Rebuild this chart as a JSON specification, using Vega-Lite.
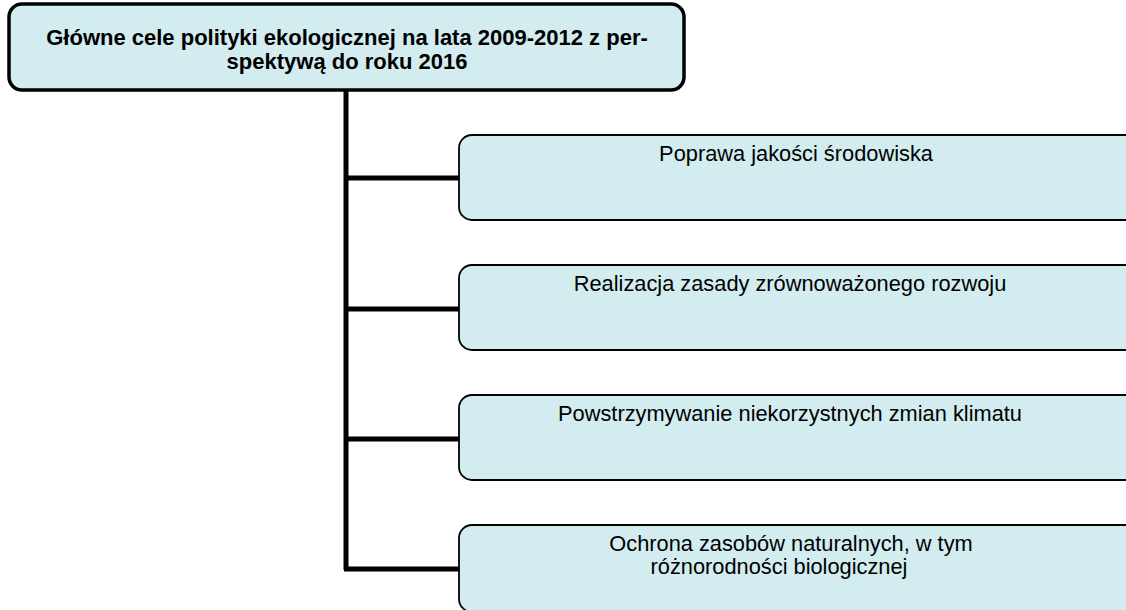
{
  "$schema": "https://vega.github.io/schema/vega-lite/v6.json",
  "width": 1126,
  "height": 610,
  "padding": 0,
  "autosize": {"type": "none"},
  "background": "white",
  "config": {"view": {"stroke": null}},
  "datasets": {
    "lines": [
      {"x": 346, "y": 89, "x2": 346, "y2": 570},
      {"x": 344, "y": 178, "x2": 460, "y2": 178},
      {"x": 344, "y": 309, "x2": 460, "y2": 309},
      {"x": 344, "y": 439, "x2": 460, "y2": 439},
      {"x": 344, "y": 569, "x2": 460, "y2": 569}
    ],
    "top": [
      {"x": 9, "x2": 684, "y": 4, "y2": 90, "tx": 347, "ty": 38, "label": "Główne cele polityki ekologicznej na lata 2009-2012 z per-\nspektywą do roku 2016"}
    ],
    "goals": [
      {"x": 459, "x2": 1140, "y": 135, "y2": 220},
      {"x": 459, "x2": 1140, "y": 265, "y2": 350},
      {"x": 459, "x2": 1140, "y": 395, "y2": 480},
      {"x": 459, "x2": 1140, "y": 525, "y2": 612}
    ],
    "labels": [
      {"tx": 796, "ty": 154, "label": "Poprawa jakości środowiska"},
      {"tx": 790, "ty": 284, "label": "Realizacja zasady zrównoważonego rozwoju"},
      {"tx": 790, "ty": 414, "label": "Powstrzymywanie niekorzystnych zmian klimatu"},
      {"tx": 791, "ty": 544, "label": "Ochrona zasobów naturalnych, w tym"},
      {"tx": 779, "ty": 567, "label": "różnorodności biologicznej"}
    ]
  },
  "layer": [
    {
      "data": {"name": "lines"},
      "mark": {"type": "rule", "strokeWidth": 5, "color": "black"},
      "encoding": {
        "x": {"field": "x", "type": "quantitative", "scale": {"domain": [0, 1126]}, "axis": null},
        "y": {"field": "y", "type": "quantitative", "scale": {"domain": [610, 0]}, "axis": null},
        "x2": {"field": "x2"},
        "y2": {"field": "y2"}
      }
    },
    {
      "data": {"name": "top"},
      "mark": {"type": "rect", "fill": "#d2ecef", "stroke": "black", "strokeWidth": 3.5, "cornerRadius": 13},
      "encoding": {
        "x": {"field": "x", "type": "quantitative", "scale": {"domain": [0, 1126]}, "axis": null},
        "x2": {"field": "x2"},
        "y": {"field": "y", "type": "quantitative", "scale": {"domain": [610, 0]}, "axis": null},
        "y2": {"field": "y2"}
      }
    },
    {
      "data": {"name": "goals"},
      "mark": {"type": "rect", "fill": "#d2ecef", "stroke": "black", "strokeWidth": 1.8, "cornerRadius": 13, "clip": true},
      "encoding": {
        "x": {"field": "x", "type": "quantitative", "scale": {"domain": [0, 1126]}, "axis": null},
        "x2": {"field": "x2"},
        "y": {"field": "y", "type": "quantitative", "scale": {"domain": [610, 0]}, "axis": null},
        "y2": {"field": "y2"}
      }
    },
    {
      "data": {"name": "top"},
      "mark": {"type": "text", "font": "Liberation Sans", "fontSize": 22, "fontWeight": "bold", "align": "center", "baseline": "middle", "lineBreak": "\n", "lineHeight": 24, "color": "black"},
      "encoding": {
        "x": {"field": "tx", "type": "quantitative", "scale": {"domain": [0, 1126]}, "axis": null},
        "y": {"field": "ty", "type": "quantitative", "scale": {"domain": [610, 0]}, "axis": null},
        "text": {"field": "label"}
      }
    },
    {
      "data": {"name": "labels"},
      "mark": {"type": "text", "font": "Liberation Sans", "fontSize": 21.8, "align": "center", "baseline": "middle", "color": "black"},
      "encoding": {
        "x": {"field": "tx", "type": "quantitative", "scale": {"domain": [0, 1126]}, "axis": null},
        "y": {"field": "ty", "type": "quantitative", "scale": {"domain": [610, 0]}, "axis": null},
        "text": {"field": "label"}
      }
    }
  ]
}
